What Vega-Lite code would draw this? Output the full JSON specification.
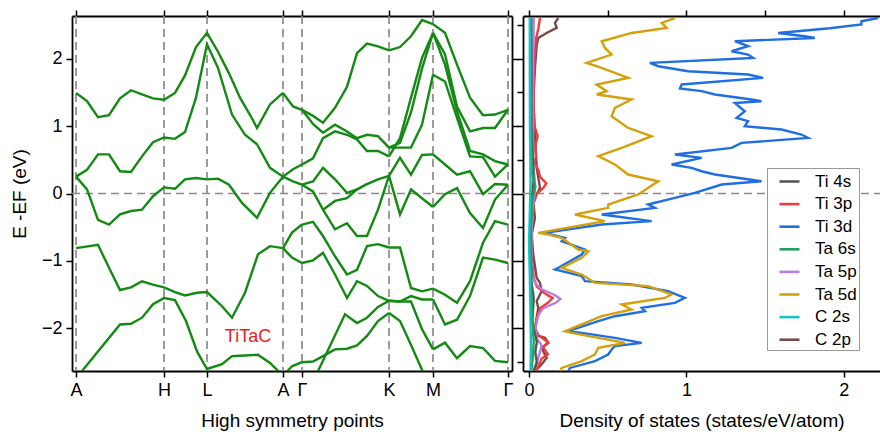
{
"$schema": "https://vega.github.io/schema/vega-lite/v6.json",
"padding": {"left": 10, "top": 9, "right": 0, "bottom": 4},
"spacing": 11,
"bounds": "flush",
"config": {
 "font": "Liberation Sans",
 "view": {"stroke": null},
 "axis": {"domainColor": "#000", "domainWidth": 1.8, "tickColor": "#000", "tickWidth": 1.5, "tickSize": 6, "labelFont": "Liberation Sans", "labelFontSize": 18, "labelColor": "#000", "titleFont": "Liberation Sans", "titleFontSize": 19, "titleFontWeight": "normal", "titleColor": "#000", "grid": false, "labelPadding": 4}
},
"datasets": {
"hs": [{"k":0,"n":"A"},{"k":0.88,"n":"H"},{"k":1.31,"n":"L"},{"k":2.07,"n":"A"},{"k":2.26,"n":"Γ"},{"k":3.13,"n":"K"},{"k":3.57,"n":"M"},{"k":4.32,"n":"Γ"}],
"bands": [
{"b":"T1","k":0,"E":1.49},{"b":"T1","k":0.11,"E":1.37},{"b":"T1","k":0.22,"E":1.13},{"b":"T1","k":0.33,"E":1.16},{"b":"T1","k":0.44,"E":1.41},{"b":"T1","k":0.55,"E":1.53},{"b":"T1","k":0.66,"E":1.47},{"b":"T1","k":0.77,"E":1.41},{"b":"T1","k":0.88,"E":1.39},{"b":"T1","k":0.99,"E":1.49},{"b":"T1","k":1.09,"E":1.75},{"b":"T1","k":1.2,"E":2.17},{"b":"T1","k":1.31,"E":2.38},{"b":"T1","k":1.42,"E":2.1},{"b":"T1","k":1.53,"E":1.78},{"b":"T1","k":1.64,"E":1.42},{"b":"T1","k":1.75,"E":1.14},{"b":"T1","k":1.81,"E":0.97},{"b":"T1","k":1.94,"E":1.32},{"b":"T1","k":2.07,"E":1.49},
{"b":"T2","k":0,"E":0.25},{"b":"T2","k":0.11,"E":0.35},{"b":"T2","k":0.22,"E":0.58},{"b":"T2","k":0.33,"E":0.58},{"b":"T2","k":0.44,"E":0.33},{"b":"T2","k":0.55,"E":0.32},{"b":"T2","k":0.66,"E":0.55},{"b":"T2","k":0.77,"E":0.76},{"b":"T2","k":0.88,"E":0.83},{"b":"T2","k":0.99,"E":0.81},{"b":"T2","k":1.09,"E":0.91},{"b":"T2","k":1.2,"E":1.42},{"b":"T2","k":1.31,"E":2.21},{"b":"T2","k":1.42,"E":1.86},{"b":"T2","k":1.56,"E":1.17},{"b":"T2","k":1.69,"E":0.87},{"b":"T2","k":1.81,"E":0.73},{"b":"T2","k":1.94,"E":0.38},{"b":"T2","k":2.07,"E":0.25},
{"b":"T3","k":0,"E":0.25},{"b":"T3","k":0.11,"E":0.06},{"b":"T3","k":0.22,"E":-0.39},{"b":"T3","k":0.33,"E":-0.46},{"b":"T3","k":0.44,"E":-0.31},{"b":"T3","k":0.55,"E":-0.26},{"b":"T3","k":0.66,"E":-0.24},{"b":"T3","k":0.77,"E":-0.04},{"b":"T3","k":0.88,"E":0.09},{"b":"T3","k":0.99,"E":0.07},{"b":"T3","k":1.09,"E":0.21},{"b":"T3","k":1.2,"E":0.23},{"b":"T3","k":1.31,"E":0.21},{"b":"T3","k":1.42,"E":0.22},{"b":"T3","k":1.53,"E":0.13},{"b":"T3","k":1.66,"E":-0.14},{"b":"T3","k":1.81,"E":-0.36},{"b":"T3","k":1.94,"E":0.01},{"b":"T3","k":2.07,"E":0.25},
{"b":"B1","k":0,"E":-0.81},{"b":"B1","k":0.22,"E":-0.76},{"b":"B1","k":0.33,"E":-1.1},{"b":"B1","k":0.44,"E":-1.43},{"b":"B1","k":0.55,"E":-1.39},{"b":"B1","k":0.66,"E":-1.3},{"b":"B1","k":0.77,"E":-1.35},{"b":"B1","k":0.88,"E":-1.39},{"b":"B1","k":0.99,"E":-1.46},{"b":"B1","k":1.09,"E":-1.51},{"b":"B1","k":1.21,"E":-1.47},{"b":"B1","k":1.31,"E":-1.46},{"b":"B1","k":1.46,"E":-1.67},{"b":"B1","k":1.56,"E":-1.84},{"b":"B1","k":1.69,"E":-1.47},{"b":"B1","k":1.82,"E":-0.9},{"b":"B1","k":1.94,"E":-0.78},{"b":"B1","k":2.07,"E":-0.81},
{"b":"B2","k":0,"E":-2.74},{"b":"B2","k":0.44,"E":-1.94},{"b":"B2","k":0.55,"E":-1.93},{"b":"B2","k":0.66,"E":-1.84},{"b":"B2","k":0.77,"E":-1.64},{"b":"B2","k":0.88,"E":-1.55},{"b":"B2","k":0.99,"E":-1.58},{"b":"B2","k":1.1,"E":-1.89},{"b":"B2","k":1.21,"E":-2.34},{"b":"B2","k":1.31,"E":-2.6},{"b":"B2","k":1.46,"E":-2.53},{"b":"B2","k":1.56,"E":-2.41},{"b":"B2","k":1.69,"E":-2.4},{"b":"B2","k":1.82,"E":-2.39},{"b":"B2","k":1.94,"E":-2.51},{"b":"B2","k":2.07,"E":-2.7},
{"b":"AG1","k":2.07,"E":1.49},{"b":"AG1","k":2.17,"E":1.29},{"b":"AG1","k":2.26,"E":1.24},
{"b":"AG2","k":2.07,"E":0.25},{"b":"AG2","k":2.17,"E":0.36},{"b":"AG2","k":2.26,"E":0.43},
{"b":"AG3","k":2.07,"E":0.25},{"b":"AG3","k":2.17,"E":0.18},{"b":"AG3","k":2.26,"E":0.13},
{"b":"AG4","k":2.07,"E":-0.81},{"b":"AG4","k":2.16,"E":-0.58},{"b":"AG4","k":2.26,"E":-0.46},
{"b":"AG5","k":2.07,"E":-0.81},{"b":"AG5","k":2.16,"E":-0.95},{"b":"AG5","k":2.26,"E":-1.03},
{"b":"AG6","k":2.07,"E":-2.7},{"b":"AG6","k":2.16,"E":-2.56},{"b":"AG6","k":2.26,"E":-2.5},
{"b":"g1","k":2.26,"E":1.24},{"b":"g1","k":2.37,"E":1.15},{"b":"g1","k":2.47,"E":1.05},{"b":"g1","k":2.59,"E":1.27},{"b":"g1","k":2.71,"E":1.58},{"b":"g1","k":2.81,"E":2.08},{"b":"g1","k":2.91,"E":2.22},{"b":"g1","k":3.02,"E":2.18},{"b":"g1","k":3.13,"E":2.12},
{"b":"g2","k":2.26,"E":1.24},{"b":"g2","k":2.37,"E":1.03},{"b":"g2","k":2.47,"E":0.9},{"b":"g2","k":2.59,"E":1.02},{"b":"g2","k":2.71,"E":0.92},{"b":"g2","k":2.81,"E":0.82},{"b":"g2","k":2.91,"E":0.87},{"b":"g2","k":3.02,"E":0.85},{"b":"g2","k":3.13,"E":0.68},
{"b":"g3","k":2.26,"E":0.43},{"b":"g3","k":2.37,"E":0.52},{"b":"g3","k":2.47,"E":0.82},{"b":"g3","k":2.59,"E":0.92},{"b":"g3","k":2.71,"E":0.87},{"b":"g3","k":2.81,"E":0.8},{"b":"g3","k":2.91,"E":0.63},{"b":"g3","k":3.02,"E":0.63},{"b":"g3","k":3.13,"E":0.55},
{"b":"g4","k":2.26,"E":0.13},{"b":"g4","k":2.37,"E":0.18},{"b":"g4","k":2.47,"E":0.38},{"b":"g4","k":2.59,"E":0.21},{"b":"g4","k":2.71,"E":0.01},{"b":"g4","k":2.81,"E":0.06},{"b":"g4","k":2.91,"E":0.14},{"b":"g4","k":3.02,"E":0.21},{"b":"g4","k":3.13,"E":0.26},
{"b":"g5","k":2.26,"E":0.13},{"b":"g5","k":2.37,"E":0.03},{"b":"g5","k":2.47,"E":-0.24},{"b":"g5","k":2.59,"E":-0.53},{"b":"g5","k":2.71,"E":-0.44},{"b":"g5","k":2.81,"E":-0.63},{"b":"g5","k":2.91,"E":-0.63},{"b":"g5","k":3.02,"E":-0.24},{"b":"g5","k":3.13,"E":0.26},
{"b":"g6","k":2.47,"E":-0.24},{"b":"g6","k":2.59,"E":-0.11},{"b":"g6","k":2.71,"E":-0.07},{"b":"g6","k":2.81,"E":0.06},{"b":"g6","k":2.91,"E":0.14},
{"b":"g7","k":2.26,"E":-0.46},{"b":"g7","k":2.37,"E":-0.42},{"b":"g7","k":2.47,"E":-0.63},{"b":"g7","k":2.59,"E":-0.93},{"b":"g7","k":2.71,"E":-1.2},{"b":"g7","k":2.81,"E":-1.13},{"b":"g7","k":2.91,"E":-0.78},{"b":"g7","k":3.02,"E":-0.75},{"b":"g7","k":3.13,"E":-0.8},
{"b":"g8","k":2.26,"E":-1.03},{"b":"g8","k":2.37,"E":-0.99},{"b":"g8","k":2.47,"E":-0.88},{"b":"g8","k":2.59,"E":-1.2},{"b":"g8","k":2.71,"E":-1.55},{"b":"g8","k":2.81,"E":-1.3},{"b":"g8","k":2.91,"E":-1.37},{"b":"g8","k":3.02,"E":-1.52},{"b":"g8","k":3.13,"E":-1.59},
{"b":"g9","k":2.26,"E":-2.5},{"b":"g9","k":2.37,"E":-2.49},{"b":"g9","k":2.47,"E":-2.41},{"b":"g9","k":2.59,"E":-2.31},{"b":"g9","k":2.71,"E":-2.3},{"b":"g9","k":2.81,"E":-2.25},{"b":"g9","k":2.91,"E":-2.11},{"b":"g9","k":3.02,"E":-1.89},{"b":"g9","k":3.13,"E":-1.77},
{"b":"g10","k":2.35,"E":-2.85},{"b":"g10","k":2.69,"E":-1.79},{"b":"g10","k":2.81,"E":-1.92},{"b":"g10","k":2.91,"E":-1.84},{"b":"g10","k":3.02,"E":-1.68},{"b":"g10","k":3.13,"E":-1.59},
{"b":"m1","k":3.13,"E":2.12},{"b":"m1","k":3.24,"E":2.17},{"b":"m1","k":3.35,"E":2.33},{"b":"m1","k":3.46,"E":2.57},{"b":"m1","k":3.57,"E":2.51},
{"b":"m2","k":3.13,"E":0.68},{"b":"m2","k":3.24,"E":0.68},{"b":"m2","k":3.35,"E":0.68},{"b":"m2","k":3.46,"E":1.02},{"b":"m2","k":3.57,"E":1.76},
{"b":"m3","k":3.13,"E":0.55},{"b":"m3","k":3.24,"E":0.82},{"b":"m3","k":3.35,"E":1.42},{"b":"m3","k":3.46,"E":2.01},{"b":"m3","k":3.57,"E":2.38},
{"b":"m4","k":3.13,"E":0.68},{"b":"m4","k":3.24,"E":0.75},{"b":"m4","k":3.35,"E":1.2},{"b":"m4","k":3.46,"E":1.85},{"b":"m4","k":3.57,"E":2.38},
{"b":"m5","k":3.13,"E":0.26},{"b":"m5","k":3.24,"E":0.53},{"b":"m5","k":3.35,"E":0.28},{"b":"m5","k":3.46,"E":0.57},{"b":"m5","k":3.57,"E":0.58},
{"b":"m6","k":3.13,"E":0.26},{"b":"m6","k":3.24,"E":-0.31},{"b":"m6","k":3.35,"E":0.06},{"b":"m6","k":3.46,"E":-0.07},{"b":"m6","k":3.57,"E":-0.2},
{"b":"m7","k":3.13,"E":-0.8},{"b":"m7","k":3.24,"E":-0.8},{"b":"m7","k":3.35,"E":-1.4},{"b":"m7","k":3.46,"E":-1.45},{"b":"m7","k":3.57,"E":-1.41},
{"b":"m8","k":3.13,"E":-1.59},{"b":"m8","k":3.24,"E":-1.6},{"b":"m8","k":3.35,"E":-1.52},{"b":"m8","k":3.46,"E":-1.57},{"b":"m8","k":3.57,"E":-1.57},
{"b":"m9","k":3.13,"E":-1.59},{"b":"m9","k":3.24,"E":-1.6},{"b":"m9","k":3.35,"E":-1.6},{"b":"m9","k":3.46,"E":-2.01},{"b":"m9","k":3.57,"E":-2.31},
{"b":"m10","k":3.13,"E":-1.77},{"b":"m10","k":3.24,"E":-1.89},{"b":"m10","k":3.34,"E":-2.21},{"b":"m10","k":3.46,"E":-2.61},{"b":"m10","k":3.52,"E":-2.8},
{"b":"r1","k":3.57,"E":2.51},{"b":"r1","k":3.69,"E":2.38},{"b":"r1","k":3.81,"E":1.91},{"b":"r1","k":3.94,"E":1.42},{"b":"r1","k":4.07,"E":1.16},{"b":"r1","k":4.19,"E":1.17},{"b":"r1","k":4.32,"E":1.24},
{"b":"r2","k":3.57,"E":2.38},{"b":"r2","k":3.69,"E":2.06},{"b":"r2","k":3.81,"E":1.29},{"b":"r2","k":3.94,"E":0.92},{"b":"r2","k":4.07,"E":0.97},{"b":"r2","k":4.19,"E":0.97},{"b":"r2","k":4.32,"E":1.24},
{"b":"r3","k":3.57,"E":1.76},{"b":"r3","k":3.69,"E":1.66},{"b":"r3","k":3.81,"E":1.12},{"b":"r3","k":3.94,"E":0.55},{"b":"r3","k":4.07,"E":0.54},{"b":"r3","k":4.19,"E":0.25},{"b":"r3","k":4.32,"E":0.43},
{"b":"r4","k":3.57,"E":2.38},{"b":"r4","k":3.69,"E":1.91},{"b":"r4","k":3.81,"E":1.22},{"b":"r4","k":3.94,"E":0.63},{"b":"r4","k":4.07,"E":0.58},{"b":"r4","k":4.19,"E":0.48},{"b":"r4","k":4.32,"E":0.43},
{"b":"r5","k":3.57,"E":0.58},{"b":"r5","k":3.69,"E":0.43},{"b":"r5","k":3.81,"E":0.28},{"b":"r5","k":3.94,"E":0.33},{"b":"r5","k":4.07,"E":-0.01},{"b":"r5","k":4.19,"E":0.14},{"b":"r5","k":4.32,"E":0.13},
{"b":"r6","k":3.57,"E":-0.2},{"b":"r6","k":3.69,"E":-0.01},{"b":"r6","k":3.81,"E":0.08},{"b":"r6","k":3.94,"E":-0.29},{"b":"r6","k":4.07,"E":-0.51},{"b":"r6","k":4.19,"E":-0.09},{"b":"r6","k":4.32,"E":0.13},
{"b":"r7","k":3.57,"E":-1.41},{"b":"r7","k":3.69,"E":-1.5},{"b":"r7","k":3.81,"E":-1.62},{"b":"r7","k":3.94,"E":-1.3},{"b":"r7","k":4.07,"E":-0.73},{"b":"r7","k":4.19,"E":-0.41},{"b":"r7","k":4.32,"E":-0.46},
{"b":"r8","k":3.57,"E":-1.57},{"b":"r8","k":3.69,"E":-1.94},{"b":"r8","k":3.81,"E":-1.87},{"b":"r8","k":3.94,"E":-1.52},{"b":"r8","k":4.07,"E":-0.95},{"b":"r8","k":4.19,"E":-0.98},{"b":"r8","k":4.32,"E":-1.03},
{"b":"r9","k":3.57,"E":-2.31},{"b":"r9","k":3.69,"E":-2.21},{"b":"r9","k":3.81,"E":-2.44},{"b":"r9","k":3.94,"E":-2.26},{"b":"r9","k":4.07,"E":-2.29},{"b":"r9","k":4.19,"E":-2.48},{"b":"r9","k":4.32,"E":-2.5}
],
"dos": [
{"o":"Ti 3d","E":2.6,"d":2.218},{"o":"Ti 3d","E":2.553,"d":2.112},{"o":"Ti 3d","E":2.504,"d":2.112},{"o":"Ti 3d","E":2.449,"d":1.911},{"o":"Ti 3d","E":2.379,"d":1.583},{"o":"Ti 3d","E":2.33,"d":1.752},{"o":"Ti 3d","E":2.305,"d":1.816},{"o":"Ti 3d","E":2.256,"d":1.308},{"o":"Ti 3d","E":2.182,"d":1.392},{"o":"Ti 3d","E":2.108,"d":1.287},{"o":"Ti 3d","E":2.059,"d":1.392},{"o":"Ti 3d","E":2.009,"d":1.424},{"o":"Ti 3d","E":1.935,"d":0.768},{"o":"Ti 3d","E":1.886,"d":0.821},{"o":"Ti 3d","E":1.812,"d":1.011},{"o":"Ti 3d","E":1.763,"d":1.392},{"o":"Ti 3d","E":1.713,"d":1.488},{"o":"Ti 3d","E":1.615,"d":0.97},{"o":"Ti 3d","E":1.556,"d":0.959},{"o":"Ti 3d","E":1.516,"d":1.097},{"o":"Ti 3d","E":1.467,"d":1.181},{"o":"Ti 3d","E":1.393,"d":1.414},{"o":"Ti 3d","E":1.367,"d":1.477},{"o":"Ti 3d","E":1.342,"d":1.308},{"o":"Ti 3d","E":1.219,"d":1.371},{"o":"Ti 3d","E":1.12,"d":1.319},{"o":"Ti 3d","E":1.071,"d":1.392},{"o":"Ti 3d","E":0.997,"d":1.371},{"o":"Ti 3d","E":0.948,"d":1.604},{"o":"Ti 3d","E":0.874,"d":1.731},{"o":"Ti 3d","E":0.824,"d":1.773},{"o":"Ti 3d","E":0.75,"d":1.35},{"o":"Ti 3d","E":0.676,"d":1.287},{"o":"Ti 3d","E":0.578,"d":0.927},{"o":"Ti 3d","E":0.527,"d":1.097},{"o":"Ti 3d","E":0.43,"d":0.906},{"o":"Ti 3d","E":0.379,"d":1.033},{"o":"Ti 3d","E":0.33,"d":1.097},{"o":"Ti 3d","E":0.281,"d":1.181},{"o":"Ti 3d","E":0.182,"d":1.477},{"o":"Ti 3d","E":0.133,"d":1.224},{"o":"Ti 3d","E":0.009,"d":1.054},{"o":"Ti 3d","E":-0.065,"d":0.927},{"o":"Ti 3d","E":-0.163,"d":0.757},{"o":"Ti 3d","E":-0.213,"d":0.8},{"o":"Ti 3d","E":-0.311,"d":0.462},{"o":"Ti 3d","E":-0.41,"d":0.779},{"o":"Ti 3d","E":-0.459,"d":0.462},{"o":"Ti 3d","E":-0.584,"d":0.102},{"o":"Ti 3d","E":-0.658,"d":0.229},{"o":"Ti 3d","E":-0.707,"d":0.208},{"o":"Ti 3d","E":-0.83,"d":0.356},{"o":"Ti 3d","E":-0.904,"d":0.335},{"o":"Ti 3d","E":-1.102,"d":0.186},{"o":"Ti 3d","E":-1.126,"d":0.165},{"o":"Ti 3d","E":-1.225,"d":0.335},{"o":"Ti 3d","E":-1.299,"d":0.356},{"o":"Ti 3d","E":-1.348,"d":0.652},{"o":"Ti 3d","E":-1.447,"d":0.884},{"o":"Ti 3d","E":-1.547,"d":0.99},{"o":"Ti 3d","E":-1.621,"d":0.927},{"o":"Ti 3d","E":-1.695,"d":0.716},{"o":"Ti 3d","E":-1.744,"d":0.737},{"o":"Ti 3d","E":-1.818,"d":0.546},{"o":"Ti 3d","E":-1.892,"d":0.44},{"o":"Ti 3d","E":-2.04,"d":0.25},{"o":"Ti 3d","E":-2.065,"d":0.335},{"o":"Ti 3d","E":-2.139,"d":0.546},{"o":"Ti 3d","E":-2.213,"d":0.716},{"o":"Ti 3d","E":-2.262,"d":0.546},{"o":"Ti 3d","E":-2.311,"d":0.525},{"o":"Ti 3d","E":-2.385,"d":0.503},{"o":"Ti 3d","E":-2.484,"d":0.419},{"o":"Ti 3d","E":-2.584,"d":0.26},{"o":"Ti 3d","E":-2.633,"d":0.25},
{"o":"Ta 5d","E":2.6,"d":0.927},{"o":"Ta 5d","E":2.527,"d":0.843},{"o":"Ta 5d","E":2.453,"d":0.874},{"o":"Ta 5d","E":2.379,"d":0.652},{"o":"Ta 5d","E":2.256,"d":0.462},{"o":"Ta 5d","E":2.157,"d":0.483},{"o":"Ta 5d","E":2.059,"d":0.525},{"o":"Ta 5d","E":1.935,"d":0.366},{"o":"Ta 5d","E":1.886,"d":0.43},{"o":"Ta 5d","E":1.787,"d":0.546},{"o":"Ta 5d","E":1.713,"d":0.63},{"o":"Ta 5d","E":1.615,"d":0.43},{"o":"Ta 5d","E":1.516,"d":0.493},{"o":"Ta 5d","E":1.467,"d":0.43},{"o":"Ta 5d","E":1.393,"d":0.652},{"o":"Ta 5d","E":1.268,"d":0.546},{"o":"Ta 5d","E":1.145,"d":0.525},{"o":"Ta 5d","E":0.972,"d":0.63},{"o":"Ta 5d","E":0.849,"d":0.779},{"o":"Ta 5d","E":0.676,"d":0.589},{"o":"Ta 5d","E":0.553,"d":0.44},{"o":"Ta 5d","E":0.43,"d":0.546},{"o":"Ta 5d","E":0.281,"d":0.63},{"o":"Ta 5d","E":0.182,"d":0.821},{"o":"Ta 5d","E":-0.015,"d":0.694},{"o":"Ta 5d","E":-0.163,"d":0.503},{"o":"Ta 5d","E":-0.213,"d":0.503},{"o":"Ta 5d","E":-0.311,"d":0.292},{"o":"Ta 5d","E":-0.41,"d":0.483},{"o":"Ta 5d","E":-0.584,"d":0.059},{"o":"Ta 5d","E":-0.607,"d":0.123},{"o":"Ta 5d","E":-0.658,"d":0.208},{"o":"Ta 5d","E":-0.83,"d":0.313},{"o":"Ta 5d","E":-0.855,"d":0.377},{"o":"Ta 5d","E":-0.954,"d":0.335},{"o":"Ta 5d","E":-1.102,"d":0.208},{"o":"Ta 5d","E":-1.2,"d":0.335},{"o":"Ta 5d","E":-1.324,"d":0.419},{"o":"Ta 5d","E":-1.373,"d":0.757},{"o":"Ta 5d","E":-1.496,"d":0.906},{"o":"Ta 5d","E":-1.547,"d":0.863},{"o":"Ta 5d","E":-1.644,"d":0.589},{"o":"Ta 5d","E":-1.719,"d":0.652},{"o":"Ta 5d","E":-1.818,"d":0.462},{"o":"Ta 5d","E":-2.04,"d":0.229},{"o":"Ta 5d","E":-2.065,"d":0.271},{"o":"Ta 5d","E":-2.139,"d":0.44},{"o":"Ta 5d","E":-2.213,"d":0.61},{"o":"Ta 5d","E":-2.287,"d":0.44},{"o":"Ta 5d","E":-2.385,"d":0.419},{"o":"Ta 5d","E":-2.484,"d":0.335},{"o":"Ta 5d","E":-2.584,"d":0.208},{"o":"Ta 5d","E":-2.633,"d":0.197},
{"o":"C 2p","E":2.6,"d":0.186},{"o":"C 2p","E":2.527,"d":0.165},{"o":"C 2p","E":2.453,"d":0.176},{"o":"C 2p","E":2.379,"d":0.112},{"o":"C 2p","E":2.305,"d":0.059},{"o":"C 2p","E":2.207,"d":0.049},{"o":"C 2p","E":1.861,"d":0.038},{"o":"C 2p","E":1.367,"d":0.027},{"o":"C 2p","E":0.874,"d":0.038},{"o":"C 2p","E":0.379,"d":0.049},{"o":"C 2p","E":0.083,"d":0.07},{"o":"C 2p","E":-0.114,"d":0.027},{"o":"C 2p","E":-0.361,"d":0.038},{"o":"C 2p","E":-0.607,"d":0.017},{"o":"C 2p","E":-0.904,"d":0.027},{"o":"C 2p","E":-1.25,"d":0.049},{"o":"C 2p","E":-1.324,"d":0.07},{"o":"C 2p","E":-1.447,"d":0.08},{"o":"C 2p","E":-1.596,"d":0.049},{"o":"C 2p","E":-1.695,"d":0.059},{"o":"C 2p","E":-1.991,"d":0.038},{"o":"C 2p","E":-2.089,"d":0.027},{"o":"C 2p","E":-2.139,"d":0.102},{"o":"C 2p","E":-2.213,"d":0.123},{"o":"C 2p","E":-2.287,"d":0.08},{"o":"C 2p","E":-2.436,"d":0.112},{"o":"C 2p","E":-2.533,"d":0.08},{"o":"C 2p","E":-2.633,"d":0.038},
{"o":"Ti 3p","E":2.6,"d":0.07},{"o":"Ti 3p","E":2.45,"d":0.06},{"o":"Ti 3p","E":2.3,"d":0.045},{"o":"Ti 3p","E":2.0,"d":0.035},{"o":"Ti 3p","E":1.6,"d":0.03},{"o":"Ti 3p","E":1.3,"d":0.03},{"o":"Ti 3p","E":1.0,"d":0.035},{"o":"Ti 3p","E":0.85,"d":0.055},{"o":"Ti 3p","E":0.7,"d":0.04},{"o":"Ti 3p","E":0.55,"d":0.045},{"o":"Ti 3p","E":0.45,"d":0.035},{"o":"Ti 3p","E":0.35,"d":0.06},{"o":"Ti 3p","E":0.25,"d":0.07},{"o":"Ti 3p","E":0.15,"d":0.11},{"o":"Ti 3p","E":0.08,"d":0.09},{"o":"Ti 3p","E":0.0,"d":0.05},{"o":"Ti 3p","E":-0.15,"d":0.03},{"o":"Ti 3p","E":-0.4,"d":0.02},{"o":"Ti 3p","E":-0.7,"d":0.015},{"o":"Ti 3p","E":-1.0,"d":0.02},{"o":"Ti 3p","E":-1.25,"d":0.03},{"o":"Ti 3p","E":-1.38,"d":0.05},{"o":"Ti 3p","E":-1.48,"d":0.1},{"o":"Ti 3p","E":-1.55,"d":0.15},{"o":"Ti 3p","E":-1.62,"d":0.12},{"o":"Ti 3p","E":-1.7,"d":0.07},{"o":"Ti 3p","E":-1.85,"d":0.05},{"o":"Ti 3p","E":-2.0,"d":0.04},{"o":"Ti 3p","E":-2.1,"d":0.06},{"o":"Ti 3p","E":-2.2,"d":0.12},{"o":"Ti 3p","E":-2.28,"d":0.09},{"o":"Ti 3p","E":-2.38,"d":0.12},{"o":"Ti 3p","E":-2.45,"d":0.08},{"o":"Ti 3p","E":-2.55,"d":0.06},{"o":"Ti 3p","E":-2.633,"d":0.04},
{"o":"Ta 5p","E":2.6,"d":0.03},{"o":"Ta 5p","E":1.5,"d":0.025},{"o":"Ta 5p","E":0.5,"d":0.025},{"o":"Ta 5p","E":0.1,"d":0.04},{"o":"Ta 5p","E":-0.3,"d":0.02},{"o":"Ta 5p","E":-0.8,"d":0.015},{"o":"Ta 5p","E":-1.2,"d":0.02},{"o":"Ta 5p","E":-1.33,"d":0.04},{"o":"Ta 5p","E":-1.42,"d":0.08},{"o":"Ta 5p","E":-1.5,"d":0.16},{"o":"Ta 5p","E":-1.56,"d":0.2},{"o":"Ta 5p","E":-1.62,"d":0.17},{"o":"Ta 5p","E":-1.7,"d":0.09},{"o":"Ta 5p","E":-1.8,"d":0.06},{"o":"Ta 5p","E":-2.0,"d":0.04},{"o":"Ta 5p","E":-2.15,"d":0.05},{"o":"Ta 5p","E":-2.25,"d":0.08},{"o":"Ta 5p","E":-2.35,"d":0.07},{"o":"Ta 5p","E":-2.5,"d":0.05},{"o":"Ta 5p","E":-2.633,"d":0.03},
{"o":"Ti 4s","E":2.6,"d":0.015},{"o":"Ti 4s","E":1.0,"d":0.015},{"o":"Ti 4s","E":0.2,"d":0.03},{"o":"Ti 4s","E":0.0,"d":0.02},{"o":"Ti 4s","E":-0.5,"d":0.01},{"o":"Ti 4s","E":-1.3,"d":0.015},{"o":"Ti 4s","E":-1.55,"d":0.03},{"o":"Ti 4s","E":-1.9,"d":0.02},{"o":"Ti 4s","E":-2.2,"d":0.05},{"o":"Ti 4s","E":-2.35,"d":0.04},{"o":"Ti 4s","E":-2.5,"d":0.05},{"o":"Ti 4s","E":-2.633,"d":0.03},
{"o":"Ta 6s","E":2.6,"d":0.01},{"o":"Ta 6s","E":1.0,"d":0.012},{"o":"Ta 6s","E":0.3,"d":0.02},{"o":"Ta 6s","E":0.1,"d":0.04},{"o":"Ta 6s","E":-0.1,"d":0.02},{"o":"Ta 6s","E":-0.6,"d":0.01},{"o":"Ta 6s","E":-1.5,"d":0.015},{"o":"Ta 6s","E":-2.2,"d":0.03},{"o":"Ta 6s","E":-2.4,"d":0.025},{"o":"Ta 6s","E":-2.633,"d":0.015},
{"o":"C 2s","E":2.6,"d":0.005},{"o":"C 2s","E":1.0,"d":0.006},{"o":"C 2s","E":0.2,"d":0.01},{"o":"C 2s","E":-0.5,"d":0.003},{"o":"C 2s","E":-0.7,"d":0.0},{"o":"C 2s","E":-1.2,"d":0.005},{"o":"C 2s","E":-1.6,"d":0.008},{"o":"C 2s","E":-2.2,"d":0.012},{"o":"C 2s","E":-2.633,"d":0.01}
]
},
"hconcat": [
{
 "width": 440, "height": 355,
 "resolve": {"axis": {"x": "independent", "y": "independent"}},
 "layer": [
  {"data": {"name": "hs"}, "mark": {"type": "rule", "stroke": "#8a8a8a", "strokeWidth": 1.7, "strokeDash": [8, 5]},
   "encoding": {"x": {"field": "k", "type": "quantitative", "scale": {"domain": [-0.04, 4.36], "nice": false, "zero": false},
     "axis": {"orient": "top", "values": [0, 0.88, 1.31, 2.07, 2.26, 3.13, 3.57, 4.32], "labels": false, "title": null}}}},
  {"data": {"values": [{}]}, "mark": {"type": "rule", "stroke": "#8a8a8a", "strokeWidth": 1.7, "strokeDash": [8, 5]},
   "encoding": {"x": {"datum": -0.04, "type": "quantitative", "axis": null, "scale": {"domain": [-0.04, 4.36], "nice": false, "zero": false}}, "x2": {"datum": 4.36},
     "y": {"datum": 0, "type": "quantitative", "scale": {"domain": [-2.63, 2.63], "nice": false, "zero": false},
       "axis": {"orient": "right", "values": [-2, -1, 0, 1, 2], "labels": false, "title": null}}}},
  {"data": {"name": "bands"}, "mark": {"type": "line", "color": "#148a14", "strokeWidth": 2.4, "clip": true},
   "encoding": {
     "x": {"field": "k", "type": "quantitative", "scale": {"domain": [-0.04, 4.36], "nice": false, "zero": false},
       "axis": {"orient": "bottom", "values": [0, 0.88, 1.31, 2.07, 2.26, 3.13, 3.57, 4.32], "labelOverlap": false, "labelFlush": false,
         "labelExpr": "datum.value < 0.5 ? 'A' : datum.value < 1 ? 'H' : datum.value < 1.5 ? 'L' : datum.value < 2.1 ? 'A' : datum.value < 2.5 ? 'Γ' : datum.value < 3.3 ? 'K' : datum.value < 4 ? 'M' : 'Γ'",
         "title": "High symmetry points", "titlePadding": 12}},
     "y": {"field": "E", "type": "quantitative", "scale": {"domain": [-2.63, 2.63], "nice": false, "zero": false},
       "axis": {"orient": "left", "values": [-2, -1, 0, 1, 2], "title": "E -EF (eV)", "titlePadding": 12}},
     "detail": {"field": "b", "type": "nominal"}}},
  {"data": {"values": [{"label": "TiTaC", "k": 1.72, "E": -2.13}]}, "mark": {"type": "text", "color": "#f01c1c", "fontSize": 18},
   "encoding": {"x": {"field": "k", "type": "quantitative", "axis": null}, "y": {"field": "E", "type": "quantitative", "axis": null}, "text": {"field": "label"}}}
 ]
},
{
 "width": 357, "height": 355,
 "resolve": {"axis": {"x": "independent", "y": "independent"}},
 "layer": [
  {"data": {"values": [{}]}, "mark": {"type": "rule", "stroke": "#8a8a8a", "strokeWidth": 1.7, "strokeDash": [8, 5]},
   "encoding": {"x": {"datum": -0.038, "type": "quantitative", "scale": {"domain": [-0.038, 2.23], "nice": false, "zero": false},
       "axis": {"orient": "top", "values": [0, 0.5, 1, 1.5, 2], "labels": false, "title": null}}, "x2": {"datum": 2.23},
     "y": {"datum": 0, "type": "quantitative", "scale": {"domain": [-2.63, 2.63], "nice": false, "zero": false}, "axis": null}}},
  {"data": {"name": "dos"}, "mark": {"type": "line", "strokeWidth": 2.4, "clip": true},
   "encoding": {
     "x": {"field": "d", "type": "quantitative", "scale": {"domain": [-0.038, 2.23], "nice": false, "zero": false},
       "axis": {"orient": "bottom", "values": [0, 0.5, 1, 1.5, 2], "format": "d", "labelExpr": "datum.value % 1 === 0 ? datum.label : ''", "labelFlush": false,
         "title": "Density of states (states/eV/atom)", "titlePadding": 12}},
     "y": {"field": "E", "type": "quantitative", "scale": {"domain": [-2.63, 2.63], "nice": false, "zero": false},
       "axis": {"orient": "left", "values": [-2.5, -2, -1.5, -1, -0.5, 0, 0.5, 1, 1.5, 2, 2.5], "labels": false, "title": null}},
     "color": {"field": "o", "type": "nominal",
       "scale": {"domain": ["Ti 4s", "Ti 3p", "Ti 3d", "Ta 6s", "Ta 5p", "Ta 5d", "C 2s", "C 2p"],
                 "range": ["#555555", "#ee3b3b", "#1f6fe0", "#23a35a", "#b57ee0", "#d4a00c", "#14c2c8", "#7d4848"]},
       "legend": {"orient": "none", "legendX": 695, "legendY": 152, "title": null, "symbolType": "stroke", "symbolStrokeWidth": 2.6, "symbolSize": 400,
         "symbolOffset": 9, "labelFontSize": 17, "labelFont": "Liberation Sans", "labelColor": "#000", "labelOffset": 14, "rowPadding": 2.6, "padding": 2,
         "strokeColor": "#999", "fillColor": "#fff"}},
     "order": {"field": "E", "type": "quantitative"}}}
 ]
}
]
}
